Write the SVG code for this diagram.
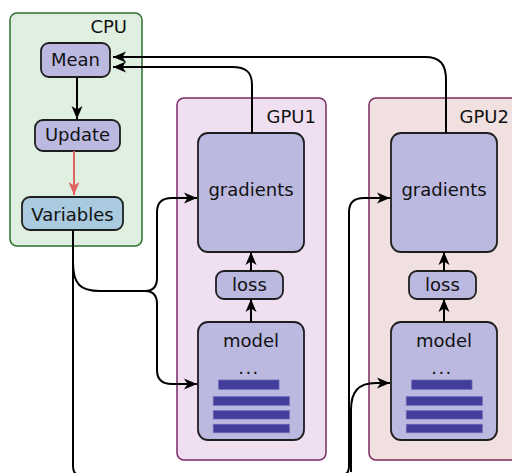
<svg xmlns="http://www.w3.org/2000/svg" width="512" height="473" viewBox="0 0 512 473">
<defs>
<style>
text{font-family:"DejaVu Sans","Liberation Sans",sans-serif;font-size:18px;fill:#111}
.lbl{text-anchor:end}
.c{text-anchor:middle}
.dots{letter-spacing:1.5px}
.node{fill:#bcb9e1;stroke:#1e1e1e;stroke-width:1.8}
.bar{fill:#433d9a;stroke:#6a65b5;stroke-width:0.8}
.con{fill:none;stroke:#000;stroke-width:2}
</style>
<marker id="ah" viewBox="-14 -7 15 14" refX="0" refY="0" markerWidth="15" markerHeight="14" markerUnits="userSpaceOnUse" orient="auto">
<path d="M0,0 L-13,-5.5 L-9.5,0 L-13,5.5 Z" fill="#000"/>
</marker>
<marker id="ahr" viewBox="-14 -7 15 14" refX="0" refY="0" markerWidth="15" markerHeight="14" markerUnits="userSpaceOnUse" orient="auto">
<path d="M0,0 L-13,-5.5 L-9.5,0 L-13,5.5 Z" fill="#e06262"/>
</marker>
</defs>
<g id="cpu">
<rect x="10" y="13" width="132" height="233" rx="7" fill="#dfefe0" stroke="#2e6e30" stroke-width="1.5"/>
<text class="lbl" x="127" y="33">CPU</text>
</g>
<g id="gpu1">
<rect x="177" y="98" width="149" height="362" rx="7" fill="#efdff0" stroke="#7a2a68" stroke-width="1.5"/>
<text class="lbl" x="316" y="123">GPU1</text>
</g>
<g id="gpu2">
<rect x="369" y="98" width="149" height="362" rx="7" fill="#f0e0e0" stroke="#7a2a5c" stroke-width="1.5"/>
<text class="lbl" x="509" y="123">GPU2</text>
</g>
<g id="mean">
<rect class="node" x="41" y="43" width="69" height="34" rx="8"/>
<text class="c" x="75.5" y="66">Mean</text>
</g>
<g id="update">
<rect class="node" x="35" y="120" width="85" height="31" rx="8"/>
<text class="c" x="77.5" y="141">Update</text>
</g>
<g id="variables">
<rect x="22" y="197" width="101" height="33" rx="8" fill="#a9cadf" stroke="#1e1e1e" stroke-width="1.8"/>
<text class="c" x="72.5" y="221">Variables</text>
</g>
<g id="gradients1">
<rect class="node" x="198" y="133" width="106" height="119" rx="10"/>
<text class="c" x="251" y="196">gradients</text>
</g>
<g id="loss1">
<rect class="node" x="216" y="271" width="67" height="28" rx="8"/>
<text class="c" x="249.5" y="291">loss</text>
</g>
<g id="model1">
<rect class="node" x="198" y="322" width="106" height="118" rx="10"/>
<text class="c" x="251" y="347">model</text>
<text class="c dots" x="249" y="374">...</text>
<rect class="bar" x="218.7" y="380" width="60.3" height="9.3"/>
<rect class="bar" x="213.3" y="396.7" width="76" height="8.6"/>
<rect class="bar" x="213.3" y="410.7" width="76" height="8.3"/>
<rect class="bar" x="213.3" y="424.3" width="76" height="8.4"/>
</g>
<g id="gradients2">
<rect class="node" x="391" y="133" width="106" height="119" rx="10"/>
<text class="c" x="444" y="196">gradients</text>
</g>
<g id="loss2">
<rect class="node" x="409" y="271" width="67" height="28" rx="8"/>
<text class="c" x="442.5" y="291">loss</text>
</g>
<g id="model2">
<rect class="node" x="391" y="322" width="106" height="118" rx="10"/>
<text class="c" x="444" y="347">model</text>
<text class="c dots" x="442" y="374">...</text>
<rect class="bar" x="411.7" y="380" width="60.3" height="9.3"/>
<rect class="bar" x="406.3" y="396.7" width="76" height="8.6"/>
<rect class="bar" x="406.3" y="410.7" width="76" height="8.3"/>
<rect class="bar" x="406.3" y="424.3" width="76" height="8.4"/>
</g>
<g id="connectors">
<path class="con" d="M77,77 V119" marker-end="url(#ah)"/>
<path class="con" d="M74,151 V195" style="stroke:#e06262" marker-end="url(#ahr)"/>
<path class="con" d="M446,133 V80 C446,64 440,57 425,57 H113" marker-end="url(#ah)"/>
<path class="con" d="M252,133 V85 C252,72 246,67 232,67 H113" marker-end="url(#ah)"/>
<path class="con" d="M251,271 V252" marker-end="url(#ah)"/>
<path class="con" d="M251,322 V299" marker-end="url(#ah)"/>
<path class="con" d="M444,271 V252" marker-end="url(#ah)"/>
<path class="con" d="M444,322 V299" marker-end="url(#ah)"/>
<path class="con" d="M73,230 V262 C73,284 80,291 100,291 H145 C153,291 157,286 157,278 V212 C157,202 162,198 172,198 H197" marker-end="url(#ah)"/>
<path class="con" d="M145,291 C153,291 157,296 157,304 V370 C157,380 162,384 172,384 H197" marker-end="url(#ah)"/>
<path class="con" d="M73,230 V466 C73,472 75,475 80,475 H342 C347,475 349,472 349,466 V212 C349,202 354,198 364,198 H390" marker-end="url(#ah)"/>
<path class="con" d="M351,472 V410 C351,392 358,383 376,383 H390" marker-end="url(#ah)"/>
</g>
</svg>
